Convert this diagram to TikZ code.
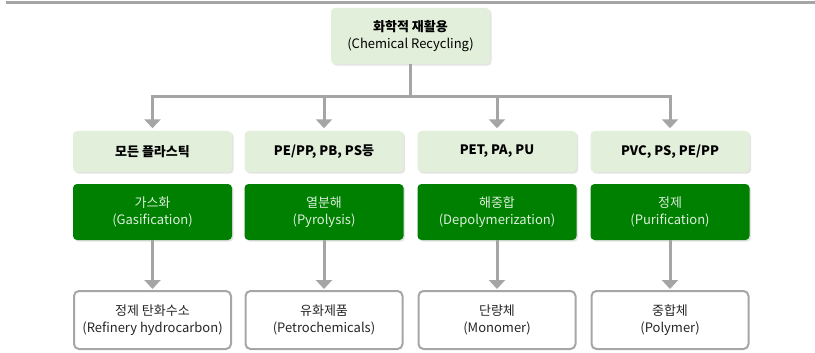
\documentclass[tikz,border=0pt]{standalone}
\usepackage{fontspec}
\setmainfont{Noto Sans CJK KR}
\usetikzlibrary{shadows,arrows.meta}
\definecolor{lightgreen}{HTML}{E2EFDA}
\definecolor{darkgreen}{HTML}{008000}
\definecolor{paletext}{HTML}{DCEFDC}
\definecolor{conngray}{HTML}{A5A5A5}
\definecolor{edgegray}{HTML}{A6A6A6}
\definecolor{shadowgray}{HTML}{E4E4E4}

\begin{document}
\begin{tikzpicture}[x=1pt,y=-1pt,
  softshadow/.style={drop shadow={shadow xshift=1.6pt,shadow yshift=-1.6pt,fill=shadowgray,opacity=1}},
  basebox/.style={rounded corners=4pt,inner sep=0pt,minimum width=159pt,align=center,
    font=\fontsize{13}{16.5}\selectfont},
  catbox/.style={basebox,softshadow,fill=lightgreen,minimum height=41pt,font=\fontsize{13}{16}\selectfont\bfseries},
  topbox/.style={basebox,softshadow,fill=lightgreen,minimum height=56pt,font=\fontsize{13}{17.5}\selectfont},
  procbox/.style={basebox,softshadow,fill=darkgreen,text=paletext,minimum height=56pt},
  prodbox/.style={basebox,fill=white,draw=edgegray,line width=2pt,rounded corners=5pt,
    minimum width=157pt,minimum height=58pt,text=black!85},
  conn/.style={draw=conngray,line width=3pt},
  arrowconn/.style={conn,-{Triangle[width=16pt,length=9pt]},shorten >=2.5pt}
]
\useasboundingbox (0,0) rectangle (815,353);

% rule along the upper edge
\draw[conngray,line width=2.5pt] (6,2.5) -- (815,2.5);

% top node
\node[topbox] (top) at (410.5,36) {\textbf{화학적 재활용}\\(Chemical Recycling)};

% plastic categories
\node[catbox] (cat1) at (152.5,151.5) {모든 플라스틱};
\node[catbox] (cat2) at (324,151.5) {PE/PP, PB, PS등};
\node[catbox] (cat3) at (497,151.5) {PET, PA, PU};
\node[catbox] (cat4) at (670,151.5) {PVC, PS, PE/PP};

% processes
\node[procbox] (proc1) at (152.5,212) {가스화\\(Gasification)};
\node[procbox] (proc2) at (324,212) {열분해\\(Pyrolysis)};
\node[procbox] (proc3) at (497,212) {해중합\\(Depolymerization)};
\node[procbox] (proc4) at (670,212) {정제\\(Purification)};

% products
\node[prodbox] (prod1) at (152.5,320) {정제 탄화수소\\(Refinery hydrocarbon)};
\node[prodbox] (prod2) at (324,320) {유화제품\\(Petrochemicals)};
\node[prodbox] (prod3) at (497,320) {단량체\\(Monomer)};
\node[prodbox] (prod4) at (670,320) {중합체\\(Polymer)};

% distribution tree
\coordinate (hub) at (410.5,97);
\draw[conn] (top.south) -- (hub);
\foreach \i in {1,...,4}{
  \draw[arrowconn] (hub) -| (cat\i.north);
  \draw[arrowconn,shorten >=1pt] (proc\i.south) -- (prod\i.north);
}
\end{tikzpicture}
\end{document}
